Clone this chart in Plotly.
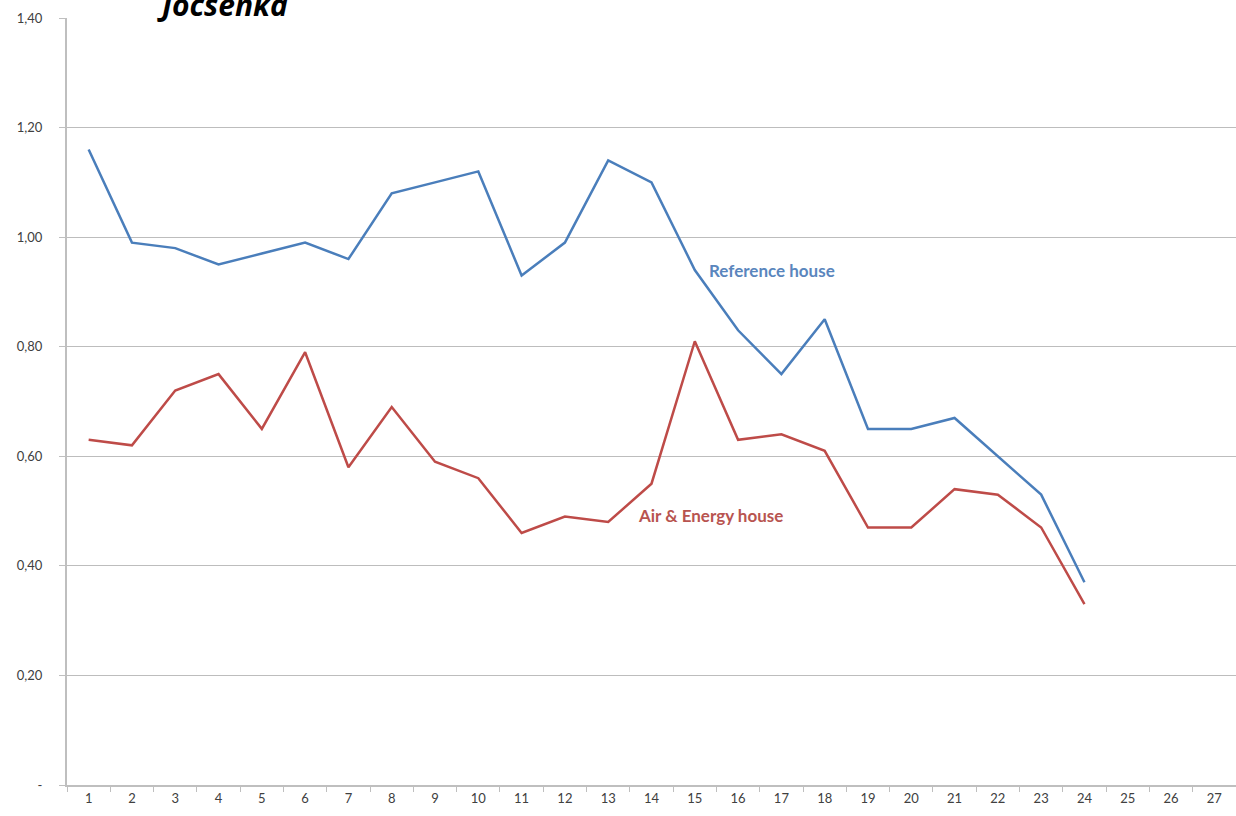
import plotly.graph_objects as go

# Measurement points 1..27 (data present for 1..24)
categories = [str(i) for i in range(1, 28)]
points = [str(i) for i in range(1, 25)]

reference_house = [1.16, 0.99, 0.98, 0.95, 0.97, 0.99, 0.96, 1.08, 1.10, 1.12,
                   0.93, 0.99, 1.14, 1.10, 0.94, 0.83, 0.75, 0.85, 0.65, 0.65,
                   0.67, 0.60, 0.53, 0.37]
air_energy_house = [0.63, 0.62, 0.72, 0.75, 0.65, 0.79, 0.58, 0.69, 0.59, 0.56,
                    0.46, 0.49, 0.48, 0.55, 0.81, 0.63, 0.64, 0.61, 0.47, 0.47,
                    0.54, 0.53, 0.47, 0.33]

y_ticks = [0, 0.2, 0.4, 0.6, 0.8, 1.0, 1.2, 1.4]
y_tick_text = ["-", "0,20", "0,40", "0,60", "0,80", "1,00", "1,20", "1,40"]

BLUE = "#4a7ebb"
RED = "#be4b48"
FONT = "Lato, 'Open Sans', sans-serif"

fig = go.Figure()
fig.add_trace(go.Scatter(x=points, y=reference_house, mode="lines",
                         line=dict(color=BLUE, width=2.5), name="Reference house"))
fig.add_trace(go.Scatter(x=points, y=air_energy_house, mode="lines",
                         line=dict(color=RED, width=2.5), name="Air & Energy house"))

# Series labels placed next to the lines (x given as category index: 14 -> "15")
fig.add_annotation(x=14, y=0.94, text="<b>Reference house</b>", showarrow=False,
                   xanchor="left", yanchor="middle", xshift=12, yshift=0,
                   font=dict(family=FONT, size=17, color="#5a86bd"))
fig.add_annotation(x=12, y=0.48, text="<b>Air & Energy house</b>", showarrow=False,
                   xanchor="left", yanchor="middle", xshift=28, yshift=7,
                   font=dict(family=FONT, size=17, color="#b85450"))

# Heading that sits above the chart area, mostly cut off by the page edge
fig.add_annotation(xref="paper", yref="paper", x=0.133, y=1.018,
                   text="<b><i>Jočsenka</i></b>", showarrow=False,
                   xanchor="center", yanchor="middle",
                   font=dict(family="'Open Sans', sans-serif", size=30, color="#000000"))

fig.update_layout(
    width=1236, height=816,
    margin=dict(l=67, r=0, t=18, b=31),
    paper_bgcolor="white", plot_bgcolor="white",
    showlegend=False,
    font=dict(family=FONT, size=13, color="#404040"),
)
fig.update_xaxes(
    type="category", categoryorder="array", categoryarray=categories,
    range=[-0.5, 26.5], tickson="boundaries", ticks="outside", ticklen=5,
    tickcolor="#bfbfbf", showline=True, linecolor="#bfbfbf", linewidth=2,
    showgrid=False, tickfont=dict(size=13, color="#404040"), fixedrange=True,
)
fig.update_yaxes(
    range=[0, 1.4], tickvals=y_ticks, ticktext=y_tick_text,
    ticks="outside", ticklen=6, tickcolor="#bfbfbf",
    showline=True, linecolor="#bfbfbf", linewidth=2,
    showgrid=True, gridcolor="#bdbdbd", gridwidth=1, zeroline=False,
    tickfont=dict(size=13, color="#404040"), ticklabelstandoff=14,
)

fig.write_html("out.html")
